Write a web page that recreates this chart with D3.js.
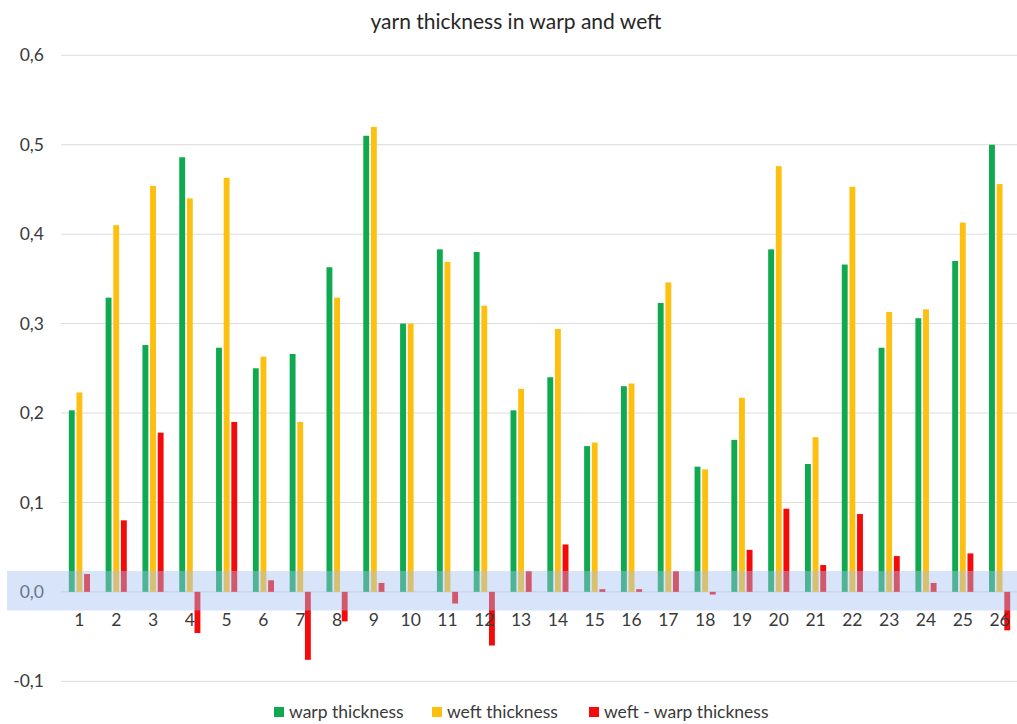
<!DOCTYPE html>
<html>
<head>
<meta charset="utf-8">
<script src="https://cdn.jsdelivr.net/npm/d3@7"></script>
<style>
  html, body { margin: 0; padding: 0; background: #fff; }
  svg { display: block; font-family: Lato, "Open Sans", sans-serif; }
</style>
</head>
<body>
<svg id="chart" width="1017" height="724"></svg>
<script>
// Sample numbers 1..26
const categories = d3.range(1, 27).map(String);

// Yarn thickness per sample
const warpThickness = [0.203, 0.329, 0.276, 0.486, 0.273, 0.250, 0.266, 0.363, 0.510, 0.300,
                       0.383, 0.380, 0.203, 0.240, 0.163, 0.230, 0.323, 0.140, 0.170, 0.383,
                       0.143, 0.366, 0.273, 0.306, 0.370, 0.500];
const weftThickness = [0.223, 0.410, 0.454, 0.440, 0.463, 0.263, 0.190, 0.329, 0.520, 0.300,
                       0.369, 0.320, 0.227, 0.294, 0.167, 0.233, 0.346, 0.137, 0.217, 0.476,
                       0.173, 0.453, 0.313, 0.316, 0.413, 0.456];
const weftMinusWarp = [0.020, 0.080, 0.178, -0.046, 0.190, 0.013, -0.076, -0.033, 0.010, 0.000,
                       -0.013, -0.060, 0.023, 0.053, 0.003, 0.003, 0.023, -0.003, 0.047, 0.093,
                       0.030, 0.087, 0.040, 0.010, 0.043, -0.043];

const seriesNames = ["warp thickness", "weft thickness", "weft - warp thickness"];
const seriesColors = ["#0faa4f", "#fdc010", "#f50a0a"];
const yTicks = [-0.1, 0, 0.1, 0.2, 0.3, 0.4, 0.5, 0.6];

(function draw() {
  const seriesValues = [warpThickness, weftThickness, weftMinusWarp];
  const rows = categories.map((c, i) => ({
    cat: c,
    vals: seriesNames.map((s, k) => ({ key: s, value: seriesValues[k][i] }))
  }));

  const svg = d3.select("#chart");
  const W = 1017;
  const plotLeft = 61, plotRight = 1018, plotTop = 55.3, plotBottom = 681.3;
  const textColor = "#3a3a3a";

  const x = d3.scaleBand().domain(categories).range([plotLeft, plotRight]).paddingInner(0.33).paddingOuter(0.165);
  const xs = d3.scaleBand().domain(seriesNames).range([0, x.bandwidth()]).padding(0.23);
  const y = d3.scaleLinear().domain([-0.1, 0.6]).range([plotBottom, plotTop]);
  const color = d3.scaleOrdinal().domain(seriesNames).range(seriesColors);

  const fmt = v => d3.format(".1f")(v).replace(".", ",").replace("\u2212", "-");

  // Title
  svg.append("text")
    .attr("x", 516).attr("y", 29)
    .attr("text-anchor", "middle")
    .attr("font-size", 21)
    .attr("fill", "#262626")
    .text("yarn thickness in warp and weft");

  // Gridlines
  svg.append("g")
    .selectAll("line").data(yTicks).join("line")
    .attr("x1", plotLeft).attr("x2", W)
    .attr("y1", d => y(d)).attr("y2", d => y(d))
    .attr("stroke", "#dcdcdc").attr("stroke-width", 1);

  // Y-axis labels
  const yAxis = d3.axisLeft(y).tickValues(yTicks).tickFormat(fmt).tickSize(0).tickPadding(0);
  svg.append("g")
    .attr("transform", "translate(44,0)")
    .call(yAxis)
    .call(g => g.select(".domain").remove())
    .call(g => g.selectAll("text")
      .attr("font-size", 17.5)
      .attr("font-family", "Lato, 'Open Sans', sans-serif")
      .attr("fill", textColor));

  // Bars
  svg.append("g")
    .selectAll("g").data(rows).join("g")
    .attr("transform", d => `translate(${x(d.cat)},0)`)
    .selectAll("rect").data(d => d.vals).join("rect")
    .attr("x", d => xs(d.key))
    .attr("width", xs.bandwidth())
    .attr("y", d => y(Math.max(0, d.value)))
    .attr("height", d => Math.abs(y(d.value) - y(0)))
    .attr("fill", d => color(d.key));

  // Highlight band around the zero line
  svg.append("rect")
    .attr("x", 7).attr("width", W - 7)
    .attr("y", 571).attr("height", 39.5)
    .attr("fill", "rgb(165,192,240)")
    .attr("fill-opacity", 0.43);

  // Category labels
  const xAxis = d3.axisBottom(x).tickSize(0).tickPadding(0);
  svg.append("g")
    .attr("transform", "translate(0,611)")
    .call(xAxis)
    .call(g => g.select(".domain").remove())
    .call(g => g.selectAll("text")
      .attr("dy", "0.85em")
      .attr("font-size", 17.5)
      .attr("font-family", "Lato, 'Open Sans', sans-serif")
      .attr("fill", textColor));

  // Legend
  const legendX = [274, 432, 589];
  const legend = svg.append("g")
    .selectAll("g").data(seriesNames).join("g")
    .attr("transform", (d, i) => `translate(${legendX[i]},707)`);
  legend.append("rect")
    .attr("width", 10).attr("height", 10)
    .attr("fill", d => color(d));
  legend.append("text")
    .attr("x", 15).attr("y", 10.5)
    .attr("font-size", 17.5)
    .attr("fill", textColor)
    .text(d => d);
})();
</script>
</body>
</html>
